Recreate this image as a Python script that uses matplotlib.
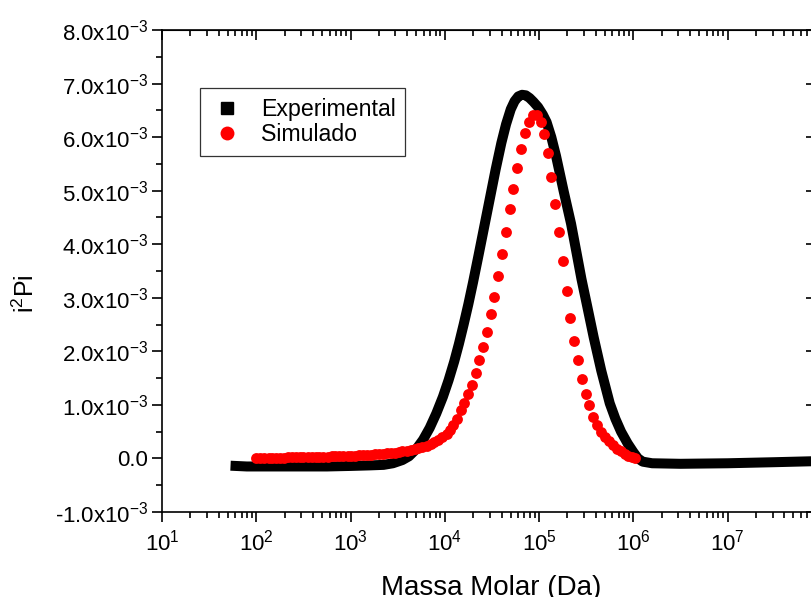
import matplotlib
matplotlib.use("Agg")
import matplotlib.pyplot as plt
from matplotlib.lines import Line2D
from matplotlib.ticker import FuncFormatter, MultipleLocator, LogLocator, NullFormatter

plt.rcParams['font.family'] = ['Liberation Sans', 'DejaVu Sans']
plt.rcParams['mathtext.default'] = 'regular'
plt.rcParams['axes.unicode_minus'] = False

# Experimental curve: log10(M) and i2Pi in units of 1e-3
exp_logm = [1.78, 1.90, 2.00, 2.25, 2.50, 2.75, 3.00, 3.20, 3.35, 3.45, 3.55,
            3.62, 3.70, 3.77, 3.84, 3.91, 3.98, 4.04, 4.10, 4.15, 4.20, 4.25,
            4.30, 4.36, 4.42, 4.48, 4.54, 4.60, 4.65, 4.70, 4.74, 4.78, 4.82,
            4.86, 4.90, 4.94, 4.99, 5.04, 5.08, 5.13, 5.18, 5.26, 5.34, 5.40,
            5.45, 5.51, 5.58, 5.66, 5.75, 5.81, 5.87, 5.94, 6.00, 6.05, 6.10,
            6.20, 6.50, 7.00, 7.50, 7.95]
exp_val = [-0.14, -0.15, -0.15, -0.15, -0.15, -0.15, -0.14, -0.13, -0.12, -0.09, -0.03,
           0.04, 0.18, 0.35, 0.57, 0.84, 1.15, 1.46, 1.81, 2.14, 2.50, 2.88,
           3.29, 3.81, 4.34, 4.87, 5.40, 5.89, 6.24, 6.52, 6.67, 6.76, 6.79,
           6.78, 6.73, 6.66, 6.56, 6.42, 6.28, 6.00, 5.65, 5.00, 4.38, 3.82,
           3.35, 2.85, 2.26, 1.64, 1.03, 0.74, 0.50, 0.28, 0.12, 0.00, -0.06,
           -0.09, -0.10, -0.09, -0.07, -0.05]

# Simulated points
sim_logm = [2.00, 2.04, 2.08, 2.13, 2.17, 2.21, 2.25, 2.29, 2.34, 2.38, 2.42,
            2.46, 2.50, 2.55, 2.59, 2.63, 2.67, 2.71, 2.76, 2.80, 2.84, 2.88,
            2.92, 2.97, 3.01, 3.05, 3.09, 3.13, 3.18, 3.22, 3.26, 3.30, 3.34,
            3.39, 3.43, 3.47, 3.51, 3.55, 3.60, 3.64, 3.68, 3.72, 3.76, 3.81,
            3.85, 3.89, 3.93, 3.97, 4.02, 4.06, 4.09, 4.13,
            4.171, 4.203, 4.245, 4.287, 4.330, 4.362, 4.404, 4.446, 4.489, 4.521,
            4.563, 4.606, 4.648, 4.690, 4.722, 4.765, 4.807, 4.849, 4.892, 4.934,
            4.977, 5.019, 5.051, 5.093, 5.125, 5.168, 5.210, 5.252, 5.295, 5.327,
            5.369, 5.411, 5.454, 5.496, 5.528, 5.570, 5.613, 5.655, 5.697, 5.739,
            5.781, 5.823, 5.865, 5.907, 5.949, 5.991, 6.020]
sim_val = [0.00, 0.00, 0.00, 0.01, 0.01, 0.01, 0.01, 0.01, 0.02, 0.02, 0.02,
           0.02, 0.02, 0.02, 0.03, 0.03, 0.03, 0.03, 0.03, 0.04, 0.04, 0.04,
           0.04, 0.05, 0.05, 0.05, 0.06, 0.06, 0.07, 0.07, 0.08, 0.08, 0.09,
           0.10, 0.10, 0.11, 0.12, 0.13, 0.14, 0.16, 0.17, 0.19, 0.21, 0.24,
           0.27, 0.31, 0.35, 0.40, 0.46, 0.54, 0.62, 0.74,
           0.91, 1.04, 1.21, 1.38, 1.59, 1.83, 2.09, 2.37, 2.69, 3.02,
           3.40, 3.81, 4.22, 4.65, 5.04, 5.43, 5.78, 6.08, 6.29, 6.42,
           6.42, 6.29, 6.06, 5.71, 5.26, 4.76, 4.22, 3.68, 3.13, 2.63,
           2.20, 1.83, 1.49, 1.21, 0.99, 0.78, 0.63, 0.49, 0.40, 0.33,
           0.26, 0.18, 0.13, 0.08, 0.05, 0.03, 0.01]

exp_x = [10 ** v for v in exp_logm]
exp_y = [v * 1e-3 for v in exp_val]
sim_x = [10 ** v for v in sim_logm]
sim_y = [v * 1e-3 for v in sim_val]

fig = plt.figure(figsize=(8.11, 5.97), dpi=100)
ax = fig.add_axes([162 / 811, 1 - 512 / 597, 659 / 811, 482 / 597])

ax.plot(exp_x, exp_y, color='black', lw=7.2, solid_capstyle='projecting',
        solid_joinstyle='round', zorder=2)
ax.plot(sim_x, sim_y, 'o', color='#ff0000', ms=7.8, mew=0, zorder=3)

ax.set_xscale('log')
ax.set_xlim(10, 9.8e7)
ax.set_ylim(-1e-3, 8e-3)

ax.xaxis.set_major_locator(LogLocator(base=10, numticks=20))
ax.xaxis.set_minor_locator(LogLocator(base=10, subs=range(2, 10), numticks=20))
ax.xaxis.set_minor_formatter(NullFormatter())
ax.yaxis.set_major_locator(MultipleLocator(1e-3))
ax.yaxis.set_minor_locator(MultipleLocator(0.5e-3))


def yfmt(v, pos):
    m = round(v * 1e3, 1)
    if abs(m) < 1e-9:
        return '0.0'
    return '%.1fx10$^{-3}$' % m


ax.yaxis.set_major_formatter(FuncFormatter(yfmt))

for s in ax.spines.values():
    s.set_linewidth(1.2)

ax.tick_params(which='both', labelsize=16, width=1.2, color='black')
ax.tick_params(axis='x', which='major', direction='out', length=7, pad=6)
ax.tick_params(axis='x', which='minor', direction='out', length=4)
ax.tick_params(axis='y', which='major', direction='out', length=7, pad=3)
ax.tick_params(axis='y', which='minor', direction='out', length=4)

# mirrored ticks pointing inwards on top and right
top = ax.secondary_xaxis('top')
top.xaxis.set_major_locator(LogLocator(base=10, numticks=20))
top.xaxis.set_minor_locator(LogLocator(base=10, subs=range(2, 10), numticks=20))
top.tick_params(which='major', direction='in', length=7, width=1.2, labeltop=False)
top.tick_params(which='minor', direction='in', length=4, width=1.2)
top.xaxis.set_major_formatter(NullFormatter())
top.xaxis.set_minor_formatter(NullFormatter())

right = ax.secondary_yaxis('right')
right.yaxis.set_major_locator(MultipleLocator(1e-3))
right.yaxis.set_minor_locator(MultipleLocator(0.5e-3))
right.tick_params(which='major', direction='in', length=11, width=1.2, labelright=False)
right.tick_params(which='minor', direction='in', length=6, width=1.2)
right.yaxis.set_major_formatter(NullFormatter())

ax.set_xlabel('Massa Molar (Da)', fontsize=20, labelpad=14)
ax.set_ylabel('i$^{2}$Pi', fontsize=18)
ax.yaxis.set_label_coords(-0.187, 0.454)

handles = [Line2D([], [], ls='none', marker='s', color='black', ms=8.5),
           Line2D([], [], ls='none', marker='o', color='#ff0000', ms=10, mew=0)]
leg = ax.legend(handles, ['Experimental', 'Simulado'], loc='upper left',
                bbox_to_anchor=(200 / 811, 1 - 88 / 597), bbox_transform=fig.transFigure,
                fontsize=16.7, frameon=True, fancybox=False, borderaxespad=0,
                handletextpad=0.7, labelspacing=0.1, borderpad=0.42, handlelength=1.5)
leg.get_frame().set_edgecolor('black')
leg.get_frame().set_linewidth(0.9)

fig.savefig('out.png', dpi=100)
